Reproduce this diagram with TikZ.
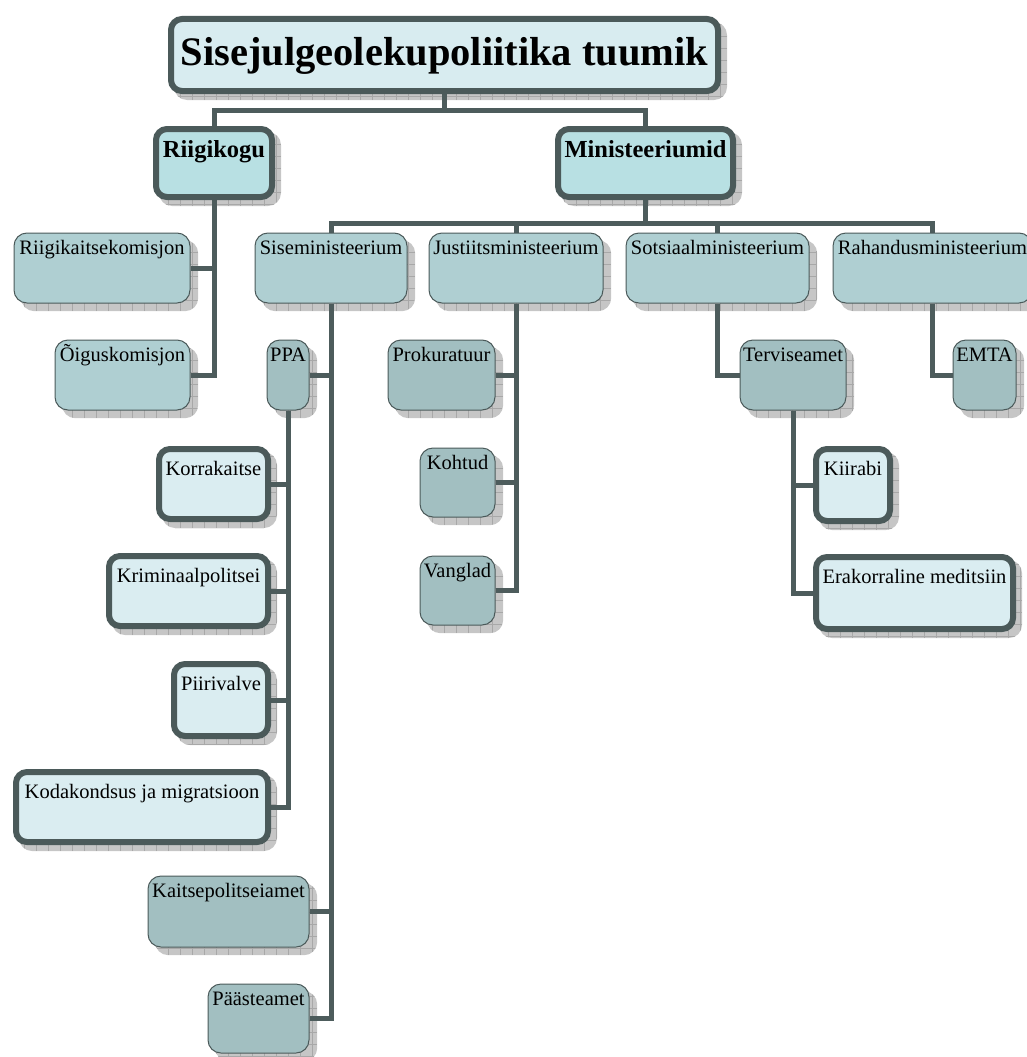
\documentclass[tikz,border=0pt]{standalone}
\usepackage{fontspec}
\setmainfont{Liberation Serif}
\pgfdeclarelayer{shadowlayer}
\pgfdeclarelayer{linelayer}
\pgfsetlayers{shadowlayer,linelayer,main}
\definecolor{borderc}{HTML}{4B5A5A}
\definecolor{linec}{HTML}{4D5C5C}
\definecolor{titlefill}{HTML}{D8ECF0}
\definecolor{headfill}{HTML}{B8E0E3}
\definecolor{minfill}{HTML}{AFCFD2}
\definecolor{agfill}{HTML}{A2BFC1}
\definecolor{lightfill}{HTML}{DAEDF1}
\definecolor{shadowc}{HTML}{C6C6C6}
\definecolor{shadowgrid}{HTML}{A8A8A8}
\tikzset{
  conn/.style={draw=linec, line width=5pt},
  boxbase/.style={inner sep=0pt, font=\fontsize{20.5}{24}\selectfont},
  thinbox/.style={boxbase, draw=borderc, line width=1pt, rounded corners=13pt},
  thickbox/.style={boxbase, draw=borderc, line width=6pt, rounded corners=11pt},
  minbox/.style={thinbox, fill=minfill},
  agbox/.style={thinbox, fill=agfill},
  lightbox/.style={thickbox, fill=lightfill},
  headbox/.style={thickbox, fill=headfill, font=\bfseries\fontsize{24.5}{28}\selectfont},
  titlebox/.style={thickbox, fill=titlefill, font=\bfseries\fontsize{40.5}{44}\selectfont},
  shadowbox/.style={fill=shadowc, rounded corners=13pt,
    path picture={\draw[shadowgrid, line width=0.6pt, step=12pt]
      (path picture bounding box.south west) grid (path picture bounding box.north east);}},
}
% #1 name, #2 style, #3 inset, #4 x1, #5 y1, #6 x2, #7 y2 (outer), #8 baseline from outer top, #9 text
\newcommand\mkbox[9]{%
  \pgfmathsetmacro\bxw{#6-#4-2*#3}%
  \pgfmathsetmacro\bxh{#7-#5-2*#3}%
  \pgfmathsetmacro\bxb{#8-#3}%
  \pgfmathsetmacro\bxd{#7-#5-2*#3-(#8-#3)}%
  \pgfmathsetmacro\bxs{8+#3/3}%
  \node[#2, minimum width=\bxw pt, minimum height=\bxh pt, text height=\bxb pt,
        text depth=\bxd pt, anchor=north west] (#1) at (#4+#3,#5+#3) {#9};
  \begin{pgfonlayer}{shadowlayer}
    \path[shadowbox] (#4+\bxs,#5+\bxs) rectangle (#6+\bxs,#7+\bxs);
  \end{pgfonlayer}}
\newcommand\thinbx[7]{\mkbox{#1}{#2}{0.5}{#3}{#4}{#5}{#6}{22}{#7}}
\newcommand\thickbx[7]{\mkbox{#1}{#2}{3}{#3}{#4}{#5}{#6}{29}{#7}}
\begin{document}
\begin{tikzpicture}[x=1pt,y=-1pt]
\useasboundingbox (0,0) rectangle (1026,1057);
% level 0 and 1
\mkbox{title}{titlebox}{3}{165}{13}{718}{91}{50}{Sisejulgeolekupoliitika tuumik}
\mkbox{riigikogu}{headbox}{3}{150}{123}{272}{197}{31}{Riigikogu}
\mkbox{minis}{headbox}{3}{552}{123}{733}{197}{31}{Ministeeriumid}
% level 2
\thinbx{rkk}{minbox}{13}{232}{190}{303}{Riigikaitsekomisjon}
\thinbx{oig}{minbox}{54}{339}{190}{410}{Õiguskomisjon}
\thinbx{sise}{minbox}{254}{232}{407}{303}{Siseministeerium}
\thinbx{just}{minbox}{428}{232}{603}{303}{Justiitsministeerium}
\thinbx{sots}{minbox}{625}{232}{809}{303}{Sotsiaalministeerium}
\thinbx{rah}{minbox}{832}{232}{1032}{303}{Rahandusministeerium}
% agencies
\thinbx{ppa}{agbox}{266}{339}{309}{410}{PPA}
\thinbx{prok}{agbox}{387}{339}{495}{410}{Prokuratuur}
\thinbx{terv}{agbox}{739}{339}{846}{410}{Terviseamet}
\thinbx{emta}{agbox}{952}{339}{1016}{410}{EMTA}
\thinbx{kohtud}{agbox}{419}{447}{495}{517}{Kohtud}
\thinbx{vangl}{agbox}{419}{555}{495}{625}{Vanglad}
\thinbx{kapo}{agbox}{147}{875}{309}{947}{Kaitsepolitseiamet}
\thinbx{paaste}{agbox}{207}{983}{309}{1053}{Päästeamet}
% thick light boxes
\thickbx{korra}{lightbox}{153}{443}{268}{519}{Korrakaitse}
\thickbx{krim}{lightbox}{103}{550}{268}{626}{Kriminaalpolitsei}
\thickbx{piiri}{lightbox}{168}{658}{268}{736}{Piirivalve}
\thickbx{koda}{lightbox}{10}{766}{268}{842}{Kodakondsus ja migratsioon}
\thickbx{kiir}{lightbox}{810}{443}{890}{521}{Kiirabi}
\thickbx{erak}{lightbox}{810}{551}{1013}{629}{Erakorraline meditsiin}
% connectors
\begin{pgfonlayer}{linelayer}
\draw[conn] (title.south) -- ++(0,16) coordinate (j0) -| (riigikogu.north);
\draw[conn] (j0) -| (minis.north);
\draw[conn] (riigikogu.south) |- (rkk.east);
\draw[conn] (riigikogu.south) |- (oig.east);
\draw[conn] (minis.south) -- ++(0,23) coordinate (j1) -| (sise.north);
\draw[conn] (j1) -| (just.north);
\draw[conn] (j1) -| (sots.north);
\draw[conn] (j1) -| (rah.north);
\draw[conn] (sise.south) |- (ppa.east);
\draw[conn] (sise.south) |- (kapo.east);
\draw[conn] (sise.south) |- (paaste.east);
\draw[conn] (ppa.south) |- (korra.east);
\draw[conn] (ppa.south) |- (krim.east);
\draw[conn] (ppa.south) |- (piiri.east);
\draw[conn] (ppa.south) |- (koda.east);
\draw[conn] (just.south) |- (prok.east);
\draw[conn] (just.south) |- (kohtud.east);
\draw[conn] (just.south) |- (vangl.east);
\draw[conn] (sots.south) |- (terv.west);
\draw[conn] (rah.south) |- (emta.west);
\draw[conn] (terv.south) |- (kiir.west);
\draw[conn] (terv.south) |- (erak.west);
\end{pgfonlayer}
\end{tikzpicture}
\end{document}
